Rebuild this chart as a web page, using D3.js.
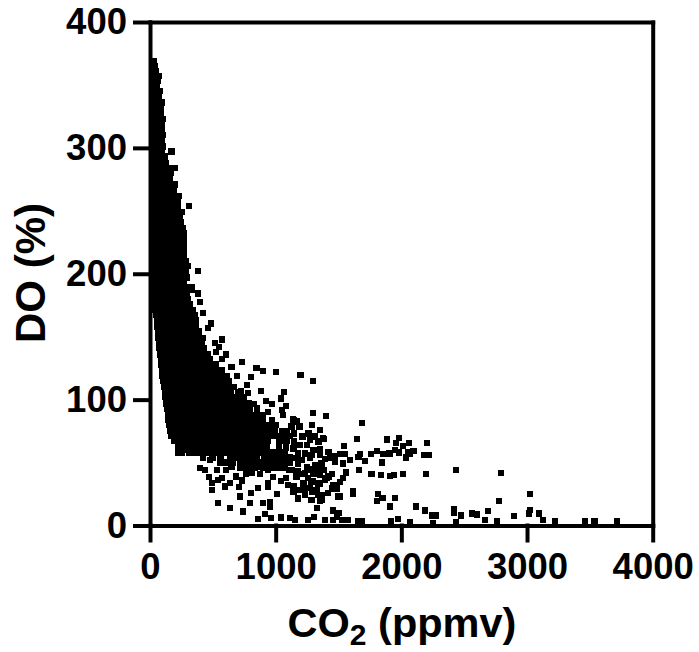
<!DOCTYPE html>
<html>
<head>
<meta charset="utf-8">
<script src="https://d3js.org/d3.v7.min.js"></script>
<style>
body{margin:0;background:#fff}
text{font-family:'Liberation Sans',Arial,sans-serif;font-weight:700;fill:#000}
</style>
</head>
<body>
<div id="chart"></div>
<script>
const xTicks = [0, 1000, 2000, 3000, 4000];
const yTicks = [0, 100, 200, 300, 400];

// dense plume, read row by row: [DO, [CO2 values in that row]]
const plumeRows = [
  [369,[24,33]],[365,[18,38]],[361,[22,50]],[357,[20,48,72]],[353,[24,60]],[349,[20,56]],
  [345,[26,52,76]],[341,[20,48,70]],[336,[24,60,96]],[332,[18,50,85]],[327,[26,58,88]],
  [323,[20,56,104]],[319,[24,60,95]],[314,[18,52,92]],[310,[26,62,100]],[306,[20,56,94]],
  [301,[24,64,102]],[297,[18,56,96,172]],[293,[26,66,114]],[288,[20,58,100,128]],
  [284,[24,68,112,150,198]],[280,[18,60,104,145,165]],[275,[26,70,116,160]],
  [271,[20,62,108,152,200]],[267,[24,68,112,156,190]],[262,[18,60,106,150,192,230]],
  [258,[26,70,114,158,200,222]],[254,[20,62,108,152,196,220,308]],[249,[24,68,114,160,204,250]],
  [245,[18,62,106,150,196,240]],[241,[26,70,116,160,206,244]],[236,[20,64,108,154,198,240,262]],
  [232,[24,68,114,158,204,248,270]],[228,[18,62,108,152,198,242,270]],[223,[26,70,116,160,206,250,272]],
  [219,[20,64,108,154,200,244,270]],[215,[24,68,114,158,204,248,272]],[210,[18,62,108,152,198,242,286]],
  [206,[26,70,116,160,206,250,300]],[202,[20,64,110,154,200,244,288,380]],[197,[24,68,114,158,204,248,290]],
  [193,[18,62,108,154,198,244,270]],[189,[26,70,116,160,206,250,288,332]],[184,[20,64,110,156,200,246,292,382]],
  [180,[24,68,114,158,204,250,300]],[176,[30,72,116,160,206,252,296,320]],[171,[40,82,126,170,214,258,302,340]],
  [167,[50,92,136,180,224,268,312,360]],[163,[56,98,142,186,230,274,318,362]],[158,[60,102,146,190,234,278,322,366]],
  [154,[62,106,150,194,238,282,326,370,392]],[149,[68,110,154,198,242,286,330,374,398]],
  [145,[72,116,160,204,248,292,336,380,410]],[141,[76,120,164,208,252,296,340,384,428]],
  [136,[80,124,168,212,256,300,344,388,432,460]],[132,[86,130,174,218,262,306,350,394,438,478]],
  [128,[90,134,178,222,266,310,354,398,442,486,520]],[123,[96,140,184,228,272,316,360,404,448,492,536,573]],
  [119,[100,144,188,232,276,320,364,408,452,496,540,584,610]],
  [115,[106,150,194,238,282,326,370,414,458,502,546,590,630]],
  [110,[112,156,200,244,288,332,376,420,464,508,552,596,640,670]],
  [106,[118,162,206,250,294,338,382,426,470,514,558,602,646,700]],
  [102,[124,168,212,256,300,344,388,432,476,520,564,608,652,696,750]],
  [97,[130,174,218,262,306,350,394,438,482,526,570,614,658,702,746,790]],
  [93,[136,180,224,268,312,356,400,444,488,532,576,620,664,708,752,796,850]],
  [88,[142,186,230,274,318,362,406,450,494,538,582,626,670,714,758,802,846,900]],
  [84,[148,192,236,280,324,368,412,456,500,544,588,632,676,720,764,808,852,896,971]],
  [80,[152,196,240,284,328,372,416,460,504,548,592,636,680,724,768,812,856,900,944,1000]],
  [75,[160,204,248,292,336,380,424,468,512,556,600,644,688,732,776,820,864,908,952,996,1050,1090]],
  [71,[172,216,260,304,348,392,436,480,524,568,612,656,700,744,788,832,876,920,964,1010,1060,1110]],
  [67,[190,234,278,322,366,410,454,498,542,586,630,674,718,762,806,850,894,938,1030,1085]],
  [62,[225,272,316,360,404,448,492,536,580,624,668,712,756,800,844,888,932,1025,1080]],
  [58,[222,250,310,354,398,442,486,530,574,618,662,706,750,794,838,882,926,970,1020,1070]],
  [54,[420,500,560,640,690,745,800,850,905,960,1010,1060,1110]],
  [50,[560,610,660,720,770,820,870,920,970,1015,1065,1110]],
  [46,[740,790,830,900,950,1000,1075]]
];

// loose cluster between 1100 and 1500 ppmv: [CO2, DO]
const midCluster = [
  [1141,83.8],[1172,82.5],[1127,78.5],[1188,78.5],[1146,73.2],[1260,73.2],[1215,70.6],[1313,70.6],[1353,75.8],
  [1379,68.7],[1146,66.6],[1273,67.9],[1340,66.6],[1194,63.9],[1247,63.9],[1141,61.3],[1300,60],[1353,60.5],
  [1419,58.6],[1180,57.3],[1233,57.3],[1286,56],[1353,56],[1472,55],[1154,53.4],[1207,52],[1273,53.4],
  [1393,52.6],[1432,54.1],[1180,49.4],[1247,46.7],[1313,48],[1366,49.4],[1114,44],[1273,44.6],[1326,44.6],
  [1379,44],[1180,42.8],[1233,41.4],[1300,41.4],[1353,40],[1419,38.8],[1167,38.8],[1393,36],[1286,34.8],
  [1220,33],[1340,33.5],[1459,32.2],[1141,31.4],[1233,29.5],[1326,28.2],[1446,29.5],[1141,26.9],[1233,24.2],
  [1340,24.2],[1180,21.6],[1286,20.3],[1353,19.7]
];

// scatter along the upper edge of the plume: [CO2, DO]
const edgePoints = [
  [332,187],[382,184.6],[398,177.5],[422,168.7],[483,160.5],[462,156.8],[422,148.9],[517,145],
  [571,147.8],[549,141.7],[525,137.8],[605,136],[571,132.2],[730,130],[650,125.8],[849,125],
  [897,122.9],[1001,121.9],[1199,119.7],[1295,115],[690,118.7],[804,117.9],[770,111.6],[722,107],
  [881,107],[1067,106],[778,105.4],[1040,101],[923,98.9],[969,96.5],[822,96.5],[1080,95],
  [1048,91.7],[939,90.4],[1295,89.6],[1401,87],[820,86.4],[1056,87.7],[1136,84.6],[1287,79.8],
  [1353,75.8],[1258,73.4],[1377,69.5],[1210,70.5]
];

// sparser band under the plume: [CO2, DO]
const lowerPoints = [
  [398,45.9],[478,52],[531,44],[470,38.7],[491,28],[541,18],[637,14],[716,22.9],[796,17.9],[740,11],
  [804,26],[860,30],[937,33.7],[939,30.8],[1009,25],[900,18],[955,18.9],[955,14.7],[915,9],[860,5],
  [961,6],[1040,6.2],[1114,6],[1154,4.4],[1258,4.4],[1305,6.7],[1393,4.4],[1454,4.4],[1486,7],[1457,11.8],
  [1327,13.9],[1496,22.9],[1367,20.2],[1287,20.2],[1178,21],[1234,24.2],[1367,24.2],[1146,26.8],[1218,33.7],
  [1234,29.8],[1098,32],[1040,35.3],[876,41],[730,35.6],[708,30.8],[637,33.7],[541,36],[650,46.7],[716,45.7],
  [810,41.7],[979,38.7],[1106,44],[1168,40],[1297,34.8],[1406,37.7],[1486,30.8],[1414,25.8],[493,33.7],
  [438,44],[573,37.7],[605,44],[685,39],[764,41],[597,31],[939,44],[1035,45.7],[1194,41],[1258,37.7],
  [1337,41],[1353,33],[1274,29.8],[1194,28],[1083,37.7],[844,47],[892,47],[1130,44],[1449,41],[1290,26.6],
  [1536,37.7],[1512,34.5],[1473,30.8],[1486,29],[1552,56.8],[1512,56.8],[1473,55],[1473,50.7],
  [302,60],[358,58.6],[422,57.6],[493,53.6]
];

// long tail to the right: [CO2, DO]
const tailPoints = [
  [1688,81.6],[1648,68.7],[1884,68.4],[1982,69.5],[1956,65.5],[2062,65.5],[2012,63],[2205,65.5],[1542,63],
  [1807,59.4],[1757,57],[1672,56.8],[1658,54.6],[1857,56.8],[1905,57.3],[1950,60],[1982,58],[2056,58],
  [2096,59.4],[2070,57.3],[2038,54],[2181,56],[2218,56],[1844,50],[1711,51.4],[1592,52],[1534,49.4],
  [1664,44.3],[1560,42],[1764,41],[1836,40],[1910,39.5],[1942,40.3],[2011,41],[2197,41],[2433,44],
  [2791,41.7],[3026,24.8],[2775,19.7],[1512,22.9],[1613,27.4],[1613,25],[1812,25.2],[1849,22],[1804,19.7],
  [1950,22],[1908,15],[2117,15],[2189,11.8],[2242,7.8],[2271,7.8],[2420,13.3],[2420,10],[2473,7.8],
  [2560,9.4],[2600,8.6],[2688,11.5],[2664,4.4],[2760,3.6],[2897,7.5],[3025,12.3],[3017,9.4],[3094,9.4],
  [3125,4.4],[3221,3.3],[3462,3.3],[3536,3.3],[3715,3.3],[2433,2.8],[2253,2.2],[2070,2.8],[1974,5.2],
  [1918,3.8],[1685,3.8],[1653,3.8],[1574,4.4],[1499,9.9],[1526,4.4]
];

const svg = d3.select("#chart").append("svg")
    .attr("width", 699)
    .attr("height", 652)
    .style("display", "block");

const x = d3.scaleLinear().domain([0, 4000]).range([150, 652.7]);
const y = d3.scaleLinear().domain([0, 400]).range([525.5, 22]);

const points = plumeRows
    .flatMap(row => row[1].map(c => [c, row[0]]))
    .concat(midCluster, edgePoints, lowerPoints, tailPoints);

const size = 6.4;
svg.append("g").attr("shape-rendering", "crispEdges").selectAll("rect")
    .data(points)
    .enter()
  .append("rect")
    .attr("x", d => x(d[0]) - size / 2)
    .attr("y", d => y(d[1]) - size / 2)
    .attr("width", size)
    .attr("height", size)
    .attr("fill", "#000");

// frame and axes
const xAxis = d3.axisBottom(x).tickValues(xTicks).tickFormat(d3.format("d")).tickSize(15).tickPadding(13).tickSizeOuter(0);
const yAxis = d3.axisLeft(y).tickValues(yTicks).tickFormat(d3.format("d")).tickSize(15).tickPadding(8).tickSizeOuter(0);
const topAxis = d3.axisTop(x).tickValues([]).tickSizeOuter(0);
const rightAxis = d3.axisRight(y).tickValues([]).tickSizeOuter(0);

const gx = svg.append("g").attr("transform", "translate(0,525.5)").call(xAxis);
const gy = svg.append("g").attr("transform", "translate(150,0)").call(yAxis);
const gt = svg.append("g").attr("transform", "translate(0,22)").call(topAxis);
const gr = svg.append("g").attr("transform", "translate(652.7,0)").call(rightAxis);

[gx, gy, gt, gr].forEach(g => {
  g.selectAll("path,line").attr("stroke", "#000").attr("stroke-width", 4).attr("stroke-linecap", "square");
  g.selectAll("text").style("font-size", "36.5px");
});

svg.append("text")
    .attr("transform", "translate(45,273) rotate(-90)")
    .attr("text-anchor", "middle")
    .style("font-size", "42px")
    .text("DO (%)");

const xLabel = svg.append("text")
    .attr("x", 402)
    .attr("y", 637)
    .attr("text-anchor", "middle")
    .style("font-size", "41.5px");
xLabel.append("tspan").text("CO");
xLabel.append("tspan").attr("dy", 8).style("font-size", "30px").text("2");
xLabel.append("tspan").attr("dy", -8).text(" (ppmv)");
</script>
</body>
</html>
